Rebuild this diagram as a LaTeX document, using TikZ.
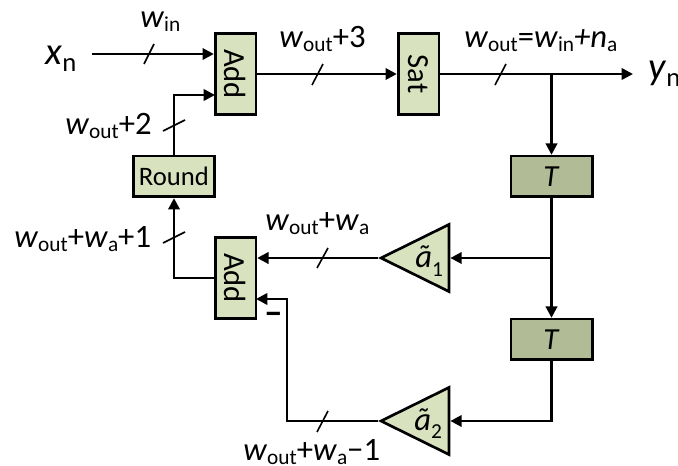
\documentclass[tikz,border=0pt]{standalone}
\usepackage{fontspec}
\setmainfont{Carlito}
\usetikzlibrary{arrows.meta,shapes.geometric}

\definecolor{boxgreen}{HTML}{D9E2BF}
\definecolor{delaygreen}{HTML}{B1BB96}

% Label macros
\newcommand{\lowtext}[1]{\raisebox{-3pt}{\fontsize{16}{16}\selectfont #1}}
\newcommand{\wout}{\textit{w}\lowtext{out}}
\newcommand{\wa}{\textit{w}\lowtext{a}}
\newcommand{\wlow}{\textit{w}\lowtext{in}}
\newcommand{\sigtext}[2]{{\fontsize{29}{29}\selectfont\textit{#1}\raisebox{-5pt}{\fontsize{20}{20}\selectfont #2}}}
\newcommand{\gaintext}[1]{\textit{ã}\raisebox{-6.5pt}{\fontsize{16}{16}\selectfont #1}}

\begin{document}
\begin{tikzpicture}[x=0.75pt,y=-0.75pt]
		% Define the styles
		\tikzset{
			every node/.style={inner sep=0pt, font=\fontsize{24.5}{24.5}\selectfont},
			block/.style={draw, line width=2pt, fill=boxgreen, minimum width=30.5pt, minimum height=61pt, font=\fontsize{23}{23}\selectfont},
			wideblock/.style={draw, line width=2pt, fill=boxgreen, minimum width=61pt, minimum height=30.5pt, font=\fontsize{20}{20}\selectfont},
			delay/.style={wideblock, fill=delaygreen, font=\fontsize{23}{23}\selectfont},
			gain/.style={draw, line width=2pt, fill=boxgreen, isosceles triangle, isosceles triangle apex angle=52.5, shape border rotate=180, minimum height=51pt, anchor=apex},
			wire/.style={line width=1.9pt},
			arrow/.style={wire, -{Triangle[length=8.5pt,width=8.5pt]}},
			tick/.style={line width=1.2pt},
			lab/.style={anchor=base west}
		}
		\useasboundingbox (0,0) rectangle (678,466);

		% Blocks
		\node[block] (add1) at (235.5,74) {\rotatebox[origin=c]{-90}{Add}};
		\node[block] (sat) at (418.5,74) {\rotatebox[origin=c]{-90}{Sat}};
		\node[wideblock] (round) at (174,176.5) {Round};
		\node[delay] (t1) at (551.5,176.5) {\textit{T}};
		\node[delay] (t2) at (551.5,339.5) {\textit{T}};
		\node[block] (add2) at (235.5,278) {\rotatebox[origin=c]{-90}{Add}};

		% Gains
		\node[gain] (a1) at (378,258) {};
		\node[gain] (a2) at (378,421) {};
		\node[lab] (a1lab) at (415,268) {\gaintext{1}};
		\node[lab] (a2lab) at (414,430) {\gaintext{2}};

		% Free ends and branch points
		\coordinate (xnend) at (92,54);
		\coordinate (ynend) at (633,74);
		\coordinate (split) at (551.5,74);
		\coordinate (split2) at (551.5,258);
		\coordinate (corner) at (287,421);

		% Connectors
		\draw[arrow] (xnend) -- (add1.west |- xnend);
		\draw[arrow] (add1.east) -- (sat.west);
		\draw[arrow] (sat.east) -- (ynend);
		\draw[arrow] (split) -- (t1.north);
		\draw[arrow] (round.north) |- (215,95);
		\draw[arrow] (t1.south) -- (t2.north);
		\draw[arrow] (split2) -- (a1.lower side);
		\draw[arrow] (a1.apex) -- (add2.east |- a1.apex);
		\draw[arrow] (t2.south) |- (a2.lower side);
		\draw[arrow] (a2.apex) -- (corner) |- (256,299);
		\draw[arrow] (add2.west) -| (round.south);

		% Width ticks
		\draw[tick] (144,64) -- (154,44);
		\draw[tick] (312,85) -- (323,64);
		\draw[tick] (495,85) -- (506,64);
		\draw[tick] (163,131) -- (185,120);
		\draw[tick] (163,243) -- (185,232);
		\draw[tick] (317,268) -- (328,248);
		\draw[tick] (317,432) -- (328,411);

		% Labels
		\node[lab] (xn) at (45,65) {\sigtext{x}{n}};
		\node[lab] (yn) at (648,80) {\sigtext{y}{n}};
		\node[lab] (win) at (140,28) {\wlow};
		\node[lab] (woutc) at (279,48) {\wout+3};
		\node[lab] (wouts) at (464,48) {\wout=\wlow\textit{+n}\lowtext{a}};
		\node[lab] (woutb) at (65,135) {\wout+2};
		\node[lab] (wsum) at (14,248) {\wout+\wa+1};
		\node[lab] (wone) at (265,231) {\wout+\wa};
		\node[lab] (wtwo) at (243,460) {\wout+\wa−1};
		\node[font=\fontsize{28}{28}\selectfont\bfseries] (minus) at (274,318) {–};
	\end{tikzpicture}
\end{document}
